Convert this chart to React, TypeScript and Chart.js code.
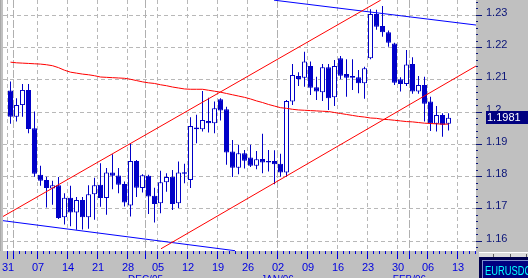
import React, { useEffect, useRef } from "react";
import { Chart, registerables } from "chart.js";

Chart.register(...registerables);

// Monday tick labels (trading-day index = 5 * k)
const weekLabels = ["31", "07", "14", "21", "28", "05", "12", "19", "26", "02", "09", "16", "23", "30", "06", "13"];
// first trading day of each month (index)
const monthStarts = [1, 23, 45, 67];
const monthLabelIdx = [23, 45, 67];
const monthLabels = ["DEC/05", "JAN/06", "FEB/06"];

const opens = [
  1.2065, 1.1984, 1.2020, 1.2067, 1.1948, 1.1804, 1.1788, 1.1762, 1.1772, 1.1673,
  1.1733, 1.1687, 1.1726, 1.1673, 1.1744, 1.1773, 1.1732, 1.1811, 1.1802, 1.1776,
  1.1709, 1.1847, 1.1763, 1.1801, 1.1739, 1.1716, 1.1781, 1.1798, 1.1716, 1.1812,
  1.1788, 1.1951, 1.1945, 1.1971, 1.1964, 1.2038, 1.2007, 1.1876, 1.1826, 1.1871,
  1.1858, 1.1832, 1.1853, 1.1847, 1.1847, 1.1838, 1.1811, 1.2031, 1.2110, 1.2105,
  1.2141, 1.2075, 1.2060, 1.2137, 1.2044, 1.2165, 1.2116, 1.2110, 1.2106, 1.2088,
  1.2165, 1.2302, 1.2265, 1.2246, 1.2211, 1.2100, 1.2085, 1.2147, 1.2062, 1.2082,
  1.2031, 1.1962, 1.1989, 1.1962,
];
const highs = [
  1.2093, 1.2041, 1.2085, 1.2085, 1.2000, 1.1832, 1.1798, 1.1786, 1.1797, 1.1747,
  1.1770, 1.1735, 1.1735, 1.1772, 1.1795, 1.1840, 1.1825, 1.1868, 1.1825, 1.1783,
  1.1902, 1.1850, 1.1806, 1.1804, 1.1764, 1.1817, 1.1809, 1.1819, 1.1845, 1.1838,
  1.1982, 1.1990, 1.2064, 1.2043, 1.2031, 1.2041, 1.2015, 1.1912, 1.1897, 1.1881,
  1.1897, 1.1878, 1.1931, 1.1881, 1.1880, 1.1869, 1.2036, 1.2147, 1.2122, 1.2185,
  1.2155, 1.2108, 1.2147, 1.2147, 1.2160, 1.2172, 1.2162, 1.2162, 1.2129, 1.2139,
  1.2317, 1.2315, 1.2327, 1.2251, 1.2213, 1.2106, 1.2191, 1.2168, 1.2110, 1.2108,
  1.2046, 1.2017, 1.1995, 1.1995,
];
const lows = [
  1.1962, 1.1969, 1.1984, 1.1933, 1.1798, 1.1770, 1.1703, 1.1711, 1.1667, 1.1650,
  1.1645, 1.1634, 1.1635, 1.1637, 1.1665, 1.1705, 1.1680, 1.1759, 1.1747, 1.1706,
  1.1675, 1.1735, 1.1749, 1.1683, 1.1656, 1.1685, 1.1752, 1.1695, 1.1701, 1.1778,
  1.1763, 1.1902, 1.1938, 1.1935, 1.1933, 1.1972, 1.1835, 1.1797, 1.1806, 1.1824,
  1.1828, 1.1821, 1.1809, 1.1814, 1.1775, 1.1798, 1.1798, 1.2020, 1.2079, 1.2077,
  1.2051, 1.2036, 1.2033, 1.2005, 1.2017, 1.2100, 1.2046, 1.2067, 1.2057, 1.2040,
  1.2162, 1.2253, 1.2232, 1.2201, 1.2082, 1.2062, 1.2079, 1.2055, 1.2055, 1.1969,
  1.1940, 1.1938, 1.1922, 1.1941,
];
const closes = [
  1.1984, 1.2020, 1.2067, 1.1946, 1.1807, 1.1786, 1.1763, 1.1772, 1.1670, 1.1733,
  1.1687, 1.1726, 1.1673, 1.1744, 1.1772, 1.1732, 1.1811, 1.1801, 1.1773, 1.1718,
  1.1847, 1.1764, 1.1803, 1.1737, 1.1714, 1.1781, 1.1797, 1.1714, 1.1811, 1.1807,
  1.1955, 1.1945, 1.1974, 1.1964, 1.2010, 1.2003, 1.1873, 1.1826, 1.1871, 1.1848,
  1.1832, 1.1852, 1.1842, 1.1842, 1.1837, 1.1811, 1.2033, 1.2113, 1.2101, 1.2155,
  1.2074, 1.2062, 1.2137, 1.2041, 1.2141, 1.2111, 1.2105, 1.2105, 1.2088, 1.2134,
  1.2302, 1.2263, 1.2246, 1.2213, 1.2089, 1.2085, 1.2146, 1.2062, 1.2082, 1.2024,
  1.1964, 1.1989, 1.1959, 1.1981,
];
const movingAvg = [
  1.2153, 1.2151, 1.2150, 1.2149, 1.2148, 1.2147, 1.2145, 1.2142, 1.2136, 1.2128,
  1.2122, 1.2119, 1.2116, 1.2114, 1.2111, 1.2107, 1.2106, 1.2105, 1.2104, 1.2103,
  1.2100, 1.2096, 1.2092, 1.2089, 1.2087, 1.2083, 1.2080, 1.2076, 1.2073, 1.2070,
  1.2069, 1.2069, 1.2069, 1.2066, 1.2063, 1.2060, 1.2056, 1.2052, 1.2048, 1.2044,
  1.2039, 1.2033, 1.2028, 1.2022, 1.2017, 1.2012, 1.2010, 1.2007, 1.2005, 1.2004,
  1.2003, 1.2002, 1.2001, 1.2000, 1.1997, 1.1994, 1.1991, 1.1988, 1.1985, 1.1983,
  1.1980, 1.1979, 1.1976, 1.1975, 1.1973, 1.1971, 1.1969, 1.1968, 1.1966, 1.1964,
  1.1963, 1.1962, 1.1961, 1.1961,
];

// trend lines: [index, price] endpoints
const redUpper = [[-0.75, 1.1675], [62.2, 1.2345]];
const redLower = [[25.58, 1.1575], [78.08, 1.2141]];
const blueUpper = [[44.42, 1.2345], [78.08, 1.2268]];
const blueLower = [[-0.75, 1.1662], [37.92, 1.1569]];

const yTickValues = [1.16, 1.17, 1.18, 1.19, 1.2, 1.21, 1.22, 1.23];
const lastPrice = 1.1981;
const symbol = "EURUSDC";

const X_MIN = -0.75;
const X_MAX = 78.083;
const Y_MIN = 1.15681;
const Y_MAX = 1.234553;

const CANDLE = "#0000c8";
const AXIS_BLUE = "#0000e0";
const NAVY = "#0a1478";

const toPts = (arr: number[][]) => arr.map(([x, y]) => ({ x, y }));

const decor = {
  id: "decor",
  beforeDraw(chart: any) {
    const { ctx, chartArea: a } = chart;
    const xs = chart.scales.x;
    const ys = chart.scales.y;
    ctx.save();
    ctx.fillStyle = "#c0c0c0";
    ctx.fillRect(0, 0, chart.width, chart.height);
    ctx.fillStyle = "#a9a9a9";
    ctx.fillRect(0, 0, 1, a.bottom);
    ctx.fillStyle = "#ffffff";
    ctx.fillRect(a.left, a.top, a.right - a.left, a.bottom - a.top);

    ctx.lineWidth = 1;
    ctx.strokeStyle = "#b8b8b8";
    ctx.setLineDash([4, 3]);
    ctx.beginPath();
    yTickValues.forEach((v) => {
      const y = Math.round(ys.getPixelForValue(v)) + 0.5;
      ctx.moveTo(a.left, y);
      ctx.lineTo(a.right, y);
    });
    weekLabels.forEach((_, k) => {
      const u = k * 5;
      if (monthStarts.includes(u)) return;
      const x = Math.floor(xs.getPixelForValue(u)) + 0.5;
      ctx.moveTo(x, a.top);
      ctx.lineTo(x, a.bottom);
    });
    ctx.stroke();
    ctx.setLineDash([8, 2]);
    ctx.strokeStyle = "#b0b0b0";
    ctx.beginPath();
    monthStarts.forEach((u) => {
      const x = Math.floor(xs.getPixelForValue(u)) + 0.5;
      ctx.moveTo(x, a.top);
      ctx.lineTo(x, a.bottom);
    });
    ctx.stroke();
    ctx.restore();
  },
  afterDraw(chart: any) {
    const { ctx, chartArea: a } = chart;
    const xs = chart.scales.x;
    const ys = chart.scales.y;
    ctx.save();
    ctx.lineWidth = 1;
    ctx.setLineDash([]);

    // x axis ticks
    ctx.strokeStyle = AXIS_BLUE;
    ctx.beginPath();
    for (let u = 0; u <= Math.floor(X_MAX); u++) {
      const x = Math.floor(xs.getPixelForValue(u)) + 0.5;
      const major = u % 5 === 0 || monthStarts.includes(u);
      ctx.moveTo(x, a.bottom);
      ctx.lineTo(x, a.bottom + (major ? 8 : 3));
    }
    ctx.stroke();
    ctx.fillStyle = AXIS_BLUE;
    ctx.font = "11px Arial, 'Liberation Sans', sans-serif";
    ctx.textAlign = "center";
    ctx.textBaseline = "alphabetic";
    weekLabels.forEach((lab, k) => {
      const x = xs.getPixelForValue(k * 5);
      ctx.fillText(lab, x + 0.5, a.bottom + 20);
    });
    ctx.font = "10px Arial, 'Liberation Sans', sans-serif";
    monthLabels.forEach((lab, k) => {
      const x = xs.getPixelForValue(monthLabelIdx[k]);
      ctx.fillText(lab, x, a.bottom + 32);
    });

    // y axis ticks
    ctx.strokeStyle = NAVY;
    ctx.beginPath();
    for (let m = 1158; m <= 1234; m += 2) {
      const y = Math.round(ys.getPixelForValue(m / 1000)) + 0.5;
      const major = m % 10 === 0;
      ctx.moveTo(a.right, y);
      ctx.lineTo(a.right + (major ? 6 : 2), y);
    }
    ctx.stroke();
    ctx.fillStyle = NAVY;
    ctx.font = "11px Arial, 'Liberation Sans', sans-serif";
    ctx.textAlign = "left";
    yTickValues.forEach((v) => {
      const y = Math.round(ys.getPixelForValue(v));
      ctx.fillText(String(Number(v.toFixed(2))), a.right + 10, y + 1);
    });

    // last price box
    const py = ys.getPixelForValue(lastPrice);
    ctx.fillStyle = "#000080";
    ctx.fillRect(a.right + 10, Math.round(py) - 7, chart.width - a.right - 10, 13);
    ctx.fillStyle = "#ffffff";
    ctx.fillText(lastPrice.toFixed(4), a.right + 11, Math.round(py) + 3);

    // symbol box
    const bx = a.right + 3;
    ctx.fillStyle = "#dcdcdc";
    ctx.fillRect(bx, a.bottom + 1, chart.width - bx, 5);
    ctx.fillStyle = "#ffffff";
    ctx.fillRect(bx, a.bottom + 1, chart.width - bx, 1);
    ctx.fillStyle = "#606060";
    [bx + 14, bx + 31, bx + 47].forEach((tx) => ctx.fillRect(tx, a.bottom + 3, 1, 3));
    ctx.fillStyle = "#000050";
    ctx.fillRect(bx, a.bottom + 6, chart.width - bx, chart.height - a.bottom - 6);
    ctx.strokeStyle = "#7f8fcf";
    ctx.strokeRect(bx + 3.5, a.bottom + 9.5, chart.width, 20);
    ctx.fillStyle = "#000080";
    ctx.fillRect(bx + 4, a.bottom + 10, chart.width, 20);
    ctx.save();
    ctx.beginPath();
    ctx.rect(bx + 4, a.bottom + 10, chart.width - bx - 4, 20);
    ctx.clip();
    ctx.fillStyle = "#00ffff";
    ctx.font = "12px Arial, 'Liberation Sans', sans-serif";
    ctx.translate(bx + 6, a.bottom + 24);
    ctx.scale(0.78, 1);
    ctx.fillText(symbol, 0, 0);
    ctx.restore();

    ctx.restore();
  },
};

export default function App() {
  const ref = useRef<HTMLCanvasElement>(null);
  useEffect(() => {
    const canvas = ref.current;
    if (!canvas) return;
    const idx = opens.map((_, i) => i + 0.5);
    const bodies = idx.map((x, i) => ({ x, y: [Math.min(opens[i], closes[i]), Math.max(opens[i], closes[i])] }));
    const wicks = idx.map((x, i) => ({ x, y: [lows[i], highs[i]] }));
    const bodyFill = opens.map((o, i) => (closes[i] < o ? CANDLE : "#ffffff"));
    const maPts = idx.map((x, i) => ({ x, y: movingAvg[i] }));
    const lineDs = (data: any[], color: string) => ({
      type: "line" as const,
      data,
      borderColor: color,
      borderWidth: 1,
      pointRadius: 0,
      tension: 0,
      fill: false,
      clip: 0,
    });
    const chart = new Chart(canvas, {
      type: "bar",
      data: {
        datasets: [
          lineDs(toPts(redUpper), "#ff0000"),
          lineDs(toPts(redLower), "#ff0000"),
          lineDs(toPts(blueUpper), "#0000ff"),
          lineDs(toPts(blueLower), "#0000ff"),
          lineDs(maPts, "#ff0000"),
          {
            type: "bar",
            data: bodies as any,
            backgroundColor: bodyFill,
            borderColor: CANDLE,
            borderWidth: 1,
            borderSkipped: false,
            barThickness: 5,
            grouped: false,
            inflateAmount: 0,
          } as any,
          {
            type: "bar",
            data: wicks as any,
            backgroundColor: CANDLE,
            borderWidth: 0,
            barThickness: 1,
            grouped: false,
            inflateAmount: 0,
          } as any,
        ],
      },
      options: {
        responsive: false,
        devicePixelRatio: 1,
        animation: false,
        events: [],
        layout: { padding: { left: 3, right: 52, top: 0, bottom: 27 } },
        plugins: { legend: { display: false }, tooltip: { enabled: false } },
        scales: {
          x: { type: "linear", min: X_MIN, max: X_MAX, offset: false, display: false },
          y: { type: "linear", min: Y_MIN, max: Y_MAX, beginAtZero: false, display: false },
        },
      },
      plugins: [decor],
    });
    return () => chart.destroy();
  }, []);
  return (
    <div style={{ position: "absolute", left: 0, top: 0, width: 528, height: 278, overflow: "hidden", background: "#c0c0c0" }}>
      <canvas ref={ref} width={528} height={278} style={{ display: "block", width: 528, height: 278 }} />
    </div>
  );
}
